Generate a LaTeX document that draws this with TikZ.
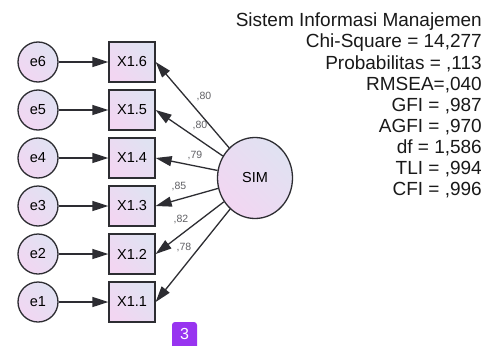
\documentclass[tikz,border=0pt]{standalone}
\usepackage{fontspec}
\setmainfont{Liberation Sans}
\usetikzlibrary{shapes.geometric,arrows.meta}
\definecolor{lnc}{RGB}{45,45,50}
\definecolor{fa}{RGB}{224,226,242}
\definecolor{fb}{RGB}{242,214,242}
\definecolor{badge}{RGB}{152,52,240}
\tikzset{
  shadefill/.style={left color=fa,right color=fb,shading angle=-45},
  errnode/.style={circle,draw=lnc,line width=1.3pt,shadefill,minimum size=40pt,inner sep=0pt,font=\fontsize{14.5}{16}\selectfont},
  obsnode/.style={rectangle,draw=lnc,line width=1.3pt,shadefill,minimum width=46pt,minimum height=40pt,inner sep=0pt,font=\fontsize{14.5}{16}\selectfont},
  latnode/.style={ellipse,draw=lnc,line width=1.3pt,shadefill,minimum width=75pt,minimum height=81pt,inner sep=0pt,font=\fontsize{14.5}{16}\selectfont},
  arr/.style={draw=lnc,line width=1.3pt,-{Triangle[length=16pt,width=10pt]}},
  ldlabel/.style={font=\fontsize{10.5}{12}\selectfont,text=lnc!75,inner sep=0pt},
  stat/.style={anchor=base east,font=\fontsize{19}{21}\selectfont,inner sep=0pt,text=black!90}
}
\begin{document}
\begin{tikzpicture}[x=1pt,y=-1pt]
\useasboundingbox (0,0) rectangle (486,345);
\fill[white] (0,0) rectangle (486,345);
\node[latnode] (sim) at (255,178) {SIM};
\foreach \i/\yy in {6/62,5/110,4/158,3/206,2/254,1/302}{
  \node[errnode] (e\i) at (38,\yy) {e\i};
  \node[obsnode] (x\i) at (132,\yy) {X1.\i};
  \draw[arr] (e\i) -- (x\i);
  \draw[arr] (sim) -- (x\i.east);
}
\node[ldlabel] (l6) at (204,97) {,80};
\node[ldlabel] (l5) at (200,126) {,80};
\node[ldlabel] (l4) at (195,156) {,79};
\node[ldlabel] (l3) at (179,187) {,85};
\node[ldlabel] (l2) at (181,220) {,82};
\node[ldlabel] (l1) at (184,248) {,78};
\node[stat] (s1) at (482,27) {Sistem Informasi Manajemen};
\node[stat] (s2) at (482,48) {Chi-Square = 14,277};
\node[stat] (s3) at (482,69) {Probabilitas = ,113};
\node[stat] (s4) at (482,90) {RMSEA=,040};
\node[stat] (s5) at (482,111) {GFI = ,987};
\node[stat] (s6) at (482,132) {AGFI = ,970};
\node[stat] (s7) at (482,153) {df = 1,586};
\node[stat] (s8) at (482,174) {TLI = ,994};
\node[stat] (s9) at (482,195) {CFI = ,996};
\fill[badge,rounded corners=3pt] (172,322) rectangle (197,350);
\node[text=white,font=\fontsize{16}{18}\selectfont,inner sep=0pt] (b) at (184.5,334) {3};
\end{tikzpicture}
\end{document}
